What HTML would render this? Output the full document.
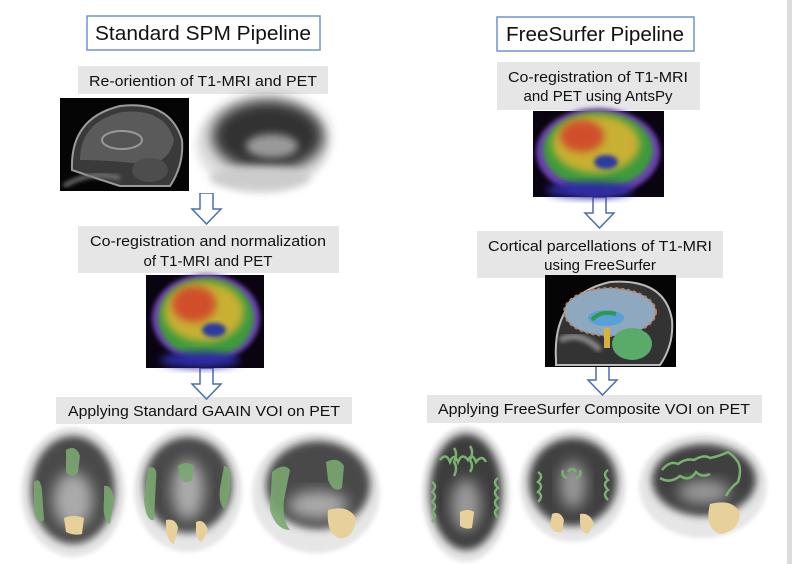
<!DOCTYPE html>
<html><head><meta charset="utf-8"><style>
html,body{margin:0;padding:0;background:#fff;}
svg{display:block;}
text{font-family:"Liberation Sans",Arial,sans-serif;fill:#111;}
</style></head><body>
<svg width="792" height="564" viewBox="0 0 792 564" xmlns="http://www.w3.org/2000/svg">
<defs>
<filter id="b2" x="-20%" y="-20%" width="140%" height="140%"><feGaussianBlur stdDeviation="2"/></filter>
<filter id="b4" x="-30%" y="-30%" width="160%" height="160%"><feGaussianBlur stdDeviation="4"/></filter>
<filter id="b7" x="-30%" y="-30%" width="160%" height="160%"><feGaussianBlur stdDeviation="7"/></filter>
<g id="arrow"><path d="M8 0 H21 V16 H29 L14.5 31 L0 16 H8 Z" fill="#fff" stroke="#4a6fae" stroke-width="1.5"/></g>
</defs>
<rect x="787" y="0" width="5" height="564" fill="#dcdcdc"/>

<rect x="87" y="16" width="233" height="34" fill="#fff" stroke="#6f93d4" stroke-width="1.5"/>
<text x="203" y="40" font-size="20" text-anchor="middle" textLength="216" lengthAdjust="spacingAndGlyphs">Standard SPM Pipeline</text>
<rect x="497" y="17" width="197" height="34" fill="#fff" stroke="#6f93d4" stroke-width="1.5"/>
<text x="595" y="41" font-size="20" text-anchor="middle" textLength="178" lengthAdjust="spacingAndGlyphs">FreeSurfer Pipeline</text>

<rect x="78" y="66" width="250" height="28" fill="#e6e6e6"/>
<text x="203" y="86" font-size="15" text-anchor="middle" textLength="228" lengthAdjust="spacingAndGlyphs">Re-oriention of T1-MRI and PET</text>
<rect x="78" y="226" width="261" height="47" fill="#e6e6e6"/>
<text x="208" y="246" font-size="15" text-anchor="middle" textLength="236" lengthAdjust="spacingAndGlyphs">Co-registration and normalization</text>
<text x="208" y="266" font-size="15" text-anchor="middle">of  T1-MRI and PET</text>
<rect x="56" y="397" width="296" height="27" fill="#e6e6e6"/>
<text x="204" y="416" font-size="15" text-anchor="middle" textLength="272" lengthAdjust="spacingAndGlyphs">Applying Standard GAAIN VOI on PET</text>

<rect x="497" y="62" width="203" height="48" fill="#e6e6e6"/>
<text x="598" y="82" font-size="15" text-anchor="middle" textLength="180" lengthAdjust="spacingAndGlyphs">Co-registration of T1-MRI</text>
<text x="598" y="101" font-size="15" text-anchor="middle">and PET using AntsPy</text>
<rect x="477" y="231" width="246" height="47" fill="#e6e6e6"/>
<text x="600" y="251" font-size="15" text-anchor="middle" textLength="224" lengthAdjust="spacingAndGlyphs">Cortical parcellations of T1-MRI</text>
<text x="600" y="270" font-size="15" text-anchor="middle">using FreeSurfer</text>
<rect x="427" y="395" width="335" height="28" fill="#e6e6e6"/>
<text x="594" y="414" font-size="15" text-anchor="middle" textLength="312" lengthAdjust="spacingAndGlyphs">Applying FreeSurfer Composite VOI on PET</text>

<use href="#arrow" x="192" y="193"/>
<use href="#arrow" x="192" y="368"/>
<use href="#arrow" x="585" y="197"/>
<use href="#arrow" x="588" y="364"/>

<rect x="60" y="98" width="129" height="93" fill="#050505"/>
<path d="M72 170 Q70 118 120 106 Q170 100 182 140 Q184 165 170 186 L120 186 Q95 178 72 170Z" fill="#3a3a3a" stroke="#9a9a9a" stroke-width="2"/>
<path d="M80 160 Q80 122 122 112 Q165 108 174 140 Q170 160 150 165 Q110 160 80 160Z" fill="#5a5a5a"/>
<ellipse cx="122" cy="140" rx="20" ry="9" fill="#555" stroke="#999" stroke-width="2"/>
<ellipse cx="150" cy="170" rx="18" ry="12" fill="#4d4d4d"/>
<path d="M64 186 Q90 170 120 178" stroke="#777" stroke-width="4" fill="none" filter="url(#b2)"/>

<rect x="191" y="96" width="140" height="97" fill="#fff"/>
<ellipse cx="262" cy="145" rx="66" ry="48" fill="#e2e2e2" filter="url(#b4)"/>
<ellipse cx="268" cy="136" rx="56" ry="36" fill="#333" filter="url(#b7)"/>
<ellipse cx="272" cy="146" rx="26" ry="12" fill="#999" filter="url(#b4)"/>
<ellipse cx="260" cy="178" rx="50" ry="12" fill="#ccc" filter="url(#b4)"/>

<rect x="146" y="275" width="118" height="93" fill="#0a0410"/>
<ellipse cx="206" cy="318" rx="54" ry="44" fill="#6a40b0" filter="url(#b2)"/>
<ellipse cx="206" cy="318" rx="48" ry="40" fill="#3d9a3d" filter="url(#b2)"/>
<ellipse cx="204" cy="312" rx="40" ry="30" fill="#c8b030" filter="url(#b4)"/>
<ellipse cx="194" cy="304" rx="22" ry="18" fill="#d0502a" filter="url(#b4)"/>
<ellipse cx="214" cy="330" rx="12" ry="7" fill="#2a3aa0" filter="url(#b2)"/>
<ellipse cx="200" cy="360" rx="40" ry="8" fill="#2a2aa0" filter="url(#b4)"/>

<rect x="533" y="111" width="131" height="86" fill="#0a0410"/>
<ellipse cx="598" cy="152" rx="62" ry="44" fill="#6a40b0" filter="url(#b2)"/>
<ellipse cx="598" cy="150" rx="55" ry="38" fill="#3d9a3d" filter="url(#b2)"/>
<ellipse cx="596" cy="144" rx="44" ry="29" fill="#c8b030" filter="url(#b4)"/>
<ellipse cx="582" cy="136" rx="22" ry="16" fill="#d0502a" filter="url(#b4)"/>
<ellipse cx="606" cy="162" rx="12" ry="7" fill="#2a3aa0" filter="url(#b2)"/>
<ellipse cx="590" cy="190" rx="44" ry="8" fill="#2a2aa0" filter="url(#b4)"/>

<rect x="545" y="275" width="131" height="92" fill="#050505"/>
<path d="M556 360 Q552 295 610 282 Q665 278 672 320 Q674 345 660 365 L556 365Z" fill="#333" stroke="#bbb" stroke-width="2"/>
<ellipse cx="610" cy="312" rx="46" ry="24" fill="#8ea8c0"/>
<ellipse cx="610" cy="312" rx="46" ry="24" fill="none" stroke="#c0805a" stroke-width="2" stroke-dasharray="3 3"/>
<ellipse cx="606" cy="318" rx="18" ry="8" fill="#5aa0d8"/>
<path d="M592 320 Q600 310 616 314" stroke="#2a9a4a" stroke-width="4" fill="none"/>
<ellipse cx="632" cy="344" rx="20" ry="16" fill="#5aaa6a"/>
<rect x="604" y="328" width="6" height="20" fill="#d8b040"/>
<path d="M560 340 Q580 330 600 350" stroke="#888" stroke-width="6" fill="none" filter="url(#b2)"/>

<ellipse cx="73" cy="492" rx="52" ry="65" fill="#e6e6e6" filter="url(#b2)"/>
<ellipse cx="73" cy="490" rx="42" ry="54" fill="#4a4a4a" filter="url(#b4)"/>
<ellipse cx="73" cy="500" rx="20" ry="28" fill="#aaa" filter="url(#b7)"/>
<rect x="134" y="428" width="108" height="128" fill="#fff"/>
<ellipse cx="188" cy="490" rx="54" ry="62" fill="#e6e6e6" filter="url(#b2)"/>
<ellipse cx="188" cy="485" rx="44" ry="48" fill="#4a4a4a" filter="url(#b4)"/>
<ellipse cx="188" cy="490" rx="16" ry="30" fill="#aaa" filter="url(#b7)"/>
<ellipse cx="316" cy="493" rx="64" ry="60" fill="#e6e6e6" filter="url(#b2)"/>
<ellipse cx="318" cy="485" rx="52" ry="44" fill="#4a4a4a" filter="url(#b4)"/>
<ellipse cx="318" cy="505" rx="30" ry="14" fill="#aaa" filter="url(#b7)"/>
<g fill="#7aa870" opacity="0.9">
<path d="M66 450 Q76 444 80 456 L78 472 Q72 480 66 472 Z"/>
<path d="M34 482 Q40 476 42 490 L44 520 Q36 526 34 510Z"/>
<path d="M104 486 Q112 484 114 500 L110 524 Q102 520 104 500Z"/>
<path d="M178 466 Q186 460 194 466 L192 480 Q186 486 180 478Z"/>
<path d="M148 468 Q158 464 156 480 L154 520 Q146 522 144 500Z"/>
<path d="M224 466 Q232 466 230 490 L226 510 Q218 506 220 488Z"/>
<path d="M272 472 Q284 462 290 470 L284 500 Q282 520 290 530 Q276 530 270 510Z"/>
<path d="M326 462 Q338 456 344 466 L342 488 Q334 494 328 480Z"/>
</g>
<g fill="#e8d09a">
<path d="M64 518 Q74 514 84 518 L82 534 Q74 536 66 532Z"/>
<path d="M166 520 Q176 518 178 528 L174 544 Q168 542 166 530Z"/>
<path d="M196 522 Q204 518 208 530 L202 542 Q196 540 196 530Z"/>
<path d="M328 510 Q348 504 356 518 Q354 540 338 538 Q326 532 328 510Z"/>
</g>

<ellipse cx="466" cy="494" rx="44" ry="68" fill="#e6e6e6" filter="url(#b2)"/>
<ellipse cx="466" cy="492" rx="36" ry="58" fill="#3e3e3e" filter="url(#b4)"/>
<ellipse cx="466" cy="505" rx="15" ry="26" fill="#999" filter="url(#b7)"/>
<rect x="520" y="428" width="106" height="110" fill="#fff"/>
<ellipse cx="573" cy="486" rx="53" ry="56" fill="#e6e6e6" filter="url(#b2)"/>
<ellipse cx="573" cy="482" rx="44" ry="44" fill="#404040" filter="url(#b4)"/>
<ellipse cx="573" cy="485" rx="13" ry="24" fill="#999" filter="url(#b7)"/>
<ellipse cx="703" cy="486" rx="64" ry="52" fill="#e6e6e6" filter="url(#b2)"/>
<ellipse cx="704" cy="480" rx="52" ry="36" fill="#404040" filter="url(#b4)"/>
<ellipse cx="704" cy="492" rx="26" ry="12" fill="#999" filter="url(#b7)"/>
<g fill="none" stroke="#7ab070" stroke-width="2.5">
<path d="M440 460 q6 -8 10 2 q4 -10 8 0 q4 -10 10 -2 q4 -8 8 2 q6 -8 10 0"/>
<path d="M454 448 q4 6 0 14 q4 6 0 14 M470 446 q4 6 0 14 q4 6 0 12"/>
<path d="M432 482 q6 4 0 10 q6 4 0 10 q6 4 0 10 q6 4 0 10"/>
<path d="M498 478 q-6 4 0 10 q-6 4 0 10 q-6 4 0 10 q-6 4 0 10"/>
<path d="M568 472 q4 -6 8 0 M563 470 q-2 6 4 8 M580 470 q2 6 -4 8"/>
<path d="M538 472 q6 4 0 10 q6 4 0 10 q6 4 0 10"/>
<path d="M608 470 q-6 4 0 10 q-6 4 0 10 q-6 4 0 10"/>
<path d="M662 470 q8 -10 16 -6 q8 -6 16 -4 q10 -6 16 -2 q10 -2 18 -6 q6 4 10 10 q4 8 0 20 q-8 6 -12 14"/>
<path d="M660 478 q10 6 20 -2 q10 6 16 -4 q6 6 14 2"/>
</g>
<g fill="#e8d09a">
<path d="M460 512 Q468 508 474 512 L472 528 Q466 530 460 526Z"/>
<path d="M552 514 Q560 510 564 520 L562 532 Q554 534 550 526Z"/>
<path d="M580 514 Q590 512 594 524 L588 534 Q580 532 580 522Z"/>
<path d="M710 504 Q734 498 740 514 Q738 532 720 534 Q704 528 710 504Z"/>
</g>
</svg>
</body></html>
